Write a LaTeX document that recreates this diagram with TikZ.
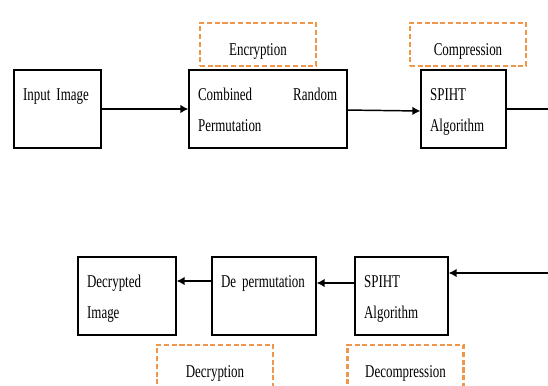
\documentclass[tikz,border=0pt]{standalone}
\usepackage{fontspec}
\setmainfont{Liberation Serif}[FakeStretch=0.72,WordSpace=0.75]
\usetikzlibrary{arrows.meta}
\definecolor{dashorange}{RGB}{240,150,75}
\begin{document}
\begin{tikzpicture}
  [x=0.75pt,y=-0.75pt,font=\fontsize{13.5}{23}\selectfont]
  \tikzstyle{box} = [draw,line width=1pt,rectangle,minimum height=58.5pt,inner sep=0pt]
  \tikzstyle{stage} = [draw=dashorange,line width=1.7pt,dash pattern=on 3.8pt off 2pt,minimum width=87pt,minimum height=32.25pt,inner sep=0pt]
  \tikzstyle{boxtext} = [anchor=base west,inner sep=0pt,align=left]
  \tikzstyle{stagetext} = [anchor=base,inner sep=0pt]
  \tikzstyle{arr} = [line width=1.1pt,-{Latex[length=6pt,width=6.5pt]}]
  \useasboundingbox (0,0) rectangle (548,385);
  % forward chain
  \node[box,minimum width=65.25pt] (inimg) at (57.5,109) {};
  \node[box,minimum width=118.5pt] (comb) at (268,109) {};
  \node[box,minimum width=63.75pt] (spihtenc) at (463.5,109) {};
  \node[stage] (enc) at (258,44.5) {};
  \node[stage] (comp) at (468,44.5) {};
  % reverse chain
  \node[box,minimum width=73.5pt] (decimg) at (127,296) {};
  \node[box,minimum width=78pt] (deperm) at (264,296) {};
  \node[box,minimum width=69.75pt] (spihtdec) at (401.5,296) {};
  \node[stage] (decr) at (215,366.5) {};
  \node[stage] (decomp) at (405.5,366.5) {};
\foreach \b/\w/\t in {inimg/50pt/Input Image,comb/104.25pt/Combined\hfill Random\\Permutation,
  spihtenc/50pt/SPIHT\\Algorithm,decimg/60pt/Decrypted\\Image,deperm/70pt/De permutation,
  spihtdec/55pt/SPIHT\\Algorithm}
   \node[boxtext,text width=\w] (\b text) at ([shift={(9.5,31)}]\b.north west) {\t};
\foreach \s/\t in {enc/Encryption,comp/Compression,decr/Decryption,decomp/Decompression}
   \node[stagetext] (\s text) at ([shift={(0,11)}]\s.center) {\t};
  \coordinate (outtop) at (548,109);
  \coordinate (inbot) at (548,273);
  \draw[arr] (inimg) -- (comb);
  \draw[arr] (comb) -- ([yshift=-1.5pt]spihtenc.west);
  \draw[line width=1.1pt] (spihtenc) -- (outtop);
  \draw[arr] (inbot) -- (inbot -| spihtdec.east);
  \draw[arr] ([yshift=9.75pt]spihtdec.west) -- ([yshift=9.75pt]deperm.east);
  \draw[arr] ([yshift=11.25pt]deperm.west) -- ([yshift=11.25pt]decimg.east);
\end{tikzpicture}
\end{document}
